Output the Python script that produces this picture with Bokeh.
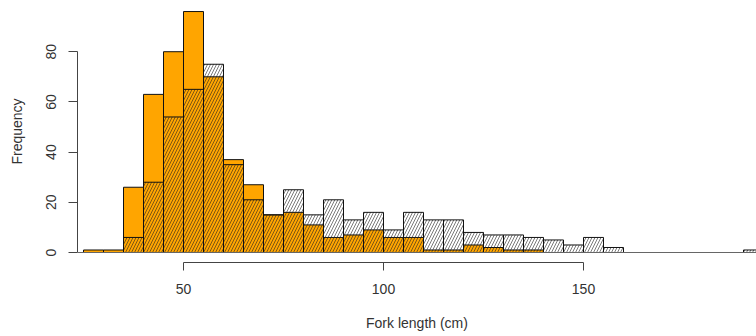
from bokeh.plotting import figure
from bokeh.models import Range1d, FixedTicker, Span
from bokeh.embed import file_html
from bokeh.resources import INLINE

# Histogram bins (cm), width 5
bin_left = [25, 30, 35, 40, 45, 50, 55, 60, 65, 70, 75, 80, 85, 90, 95, 100, 105,
            110, 115, 120, 125, 130, 135, 140, 145, 150, 155, 160, 165, 170, 175,
            180, 185, 190]
bin_width = 5
# orange (solid) group counts
orange_counts = [1, 1, 26, 63, 80, 96, 70, 37, 27, 15, 16, 11, 6, 7, 9, 6, 6,
                 1, 1, 3, 2, 1, 1, 0, 0, 0, 0, 0, 0, 0, 0, 0, 0, 0]
# hatched group counts
hatched_counts = [0, 0, 6, 28, 54, 65, 75, 35, 21, 15, 25, 15, 21, 13, 16, 9, 16,
                  13, 13, 8, 7, 7, 6, 5, 3, 6, 2, 0, 0, 0, 0, 0, 0, 1]
x_ticks = [50, 100, 150]
y_ticks = [0, 20, 40, 60, 80]

FONT = "Liberation Sans"

p = figure(width=756, height=336, output_backend="svg", toolbar_location=None,
           x_range=Range1d(23.5, 193.25), y_range=Range1d(-3.98, 100.4),
           min_border_left=77, min_border_bottom=74, min_border_top=0,
           min_border_right=0)
p.outline_line_color = None
p.grid.visible = False
p.background_fill_color = "white"

# baseline
p.add_layout(Span(location=0, dimension="width", line_color="#666666", line_width=1))

o_l = [b for b, c in zip(bin_left, orange_counts) if c > 0]
o_c = [c for c in orange_counts if c > 0]
h_l = [b for b, c in zip(bin_left, hatched_counts) if c > 0]
h_c = [c for c in hatched_counts if c > 0]

p.quad(left=o_l, right=[b + bin_width for b in o_l], bottom=0, top=o_c,
       fill_color="#FFA500", line_color="#111111", line_width=1)
p.quad(left=h_l, right=[b + bin_width for b in h_l], bottom=0, top=h_c,
       fill_alpha=0, hatch_pattern="/", hatch_color="#222222", hatch_scale=6,
       hatch_weight=0.6, line_color="#111111", line_width=1)

for ax, ticks in ((p.xaxis[0], x_ticks), (p.yaxis[0], y_ticks)):
    ax.ticker = FixedTicker(ticks=ticks)
    ax.bounds = (ticks[0], ticks[-1])
    ax.minor_tick_line_color = None
    ax.major_tick_in = 0
    ax.axis_line_color = "#444444"
    ax.major_tick_line_color = "#444444"
    ax.major_label_text_font = FONT
    ax.major_label_text_font_size = "14px"
    ax.major_label_text_color = "#333333"
    ax.axis_label_text_font = FONT
    ax.axis_label_text_font_size = "14px"
    ax.axis_label_text_font_style = "normal"
    ax.axis_label_text_color = "#333333"

p.xaxis.axis_label = "Fork length (cm)"
p.xaxis.major_tick_out = 8
p.xaxis.major_label_standoff = 13
p.xaxis.axis_label_standoff = 18

p.yaxis.axis_label = "Frequency"
p.yaxis.major_tick_out = 9
p.yaxis.major_label_orientation = "vertical"
p.yaxis.major_label_standoff = 12
p.yaxis.axis_label_standoff = 19

open("out.html", "w").write(file_html(p, INLINE))
